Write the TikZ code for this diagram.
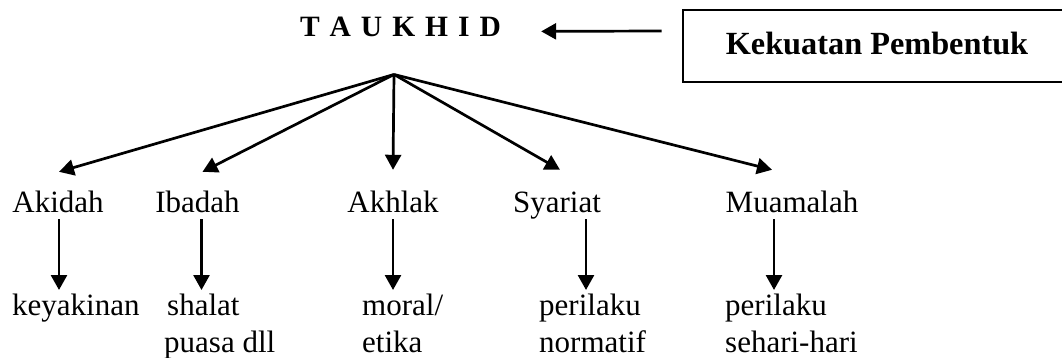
\documentclass[tikz,border=0pt]{standalone}
\usepackage{fontspec}
\setmainfont{Liberation Serif}
\usetikzlibrary{arrows.meta,calc}
\begin{document}
\begin{tikzpicture}[x=1pt,y=-1pt,
  arr/.style={line width=2.7pt,-{Triangle[length=15pt,width=16pt]}},
  lbl/.style={font=\fontsize{31}{37}\selectfont, inner sep=0pt},
  toplbl/.style={lbl, anchor=base, text height=21pt, text depth=7pt},
  botlbl/.style={lbl, anchor=north west, align=left},
  boxline/.style={line width=2.5pt}
]
\useasboundingbox (0,0) rectangle (1062,358);
% title and source box
\node[font=\fontsize{29.5}{34}\selectfont\bfseries, inner sep=0pt, anchor=base] (t) at (400.5,37)
  {T\hspace{10pt}A\hspace{10pt}U\hspace{10pt}K\hspace{10pt}H\hspace{10pt}I\hspace{10pt}D};
\node[font=\fontsize{32.3}{38}\selectfont\bfseries, inner sep=0pt, anchor=base] (kp) at (877,55) {Kekuatan Pembentuk};
\draw[boxline] (1064,10) -| (683,82) -- (1064,82);
\draw[arr] ($(kp.west)+(-64,-13)$) -- ($(t.east)+(40,4)$);
\coordinate (apex) at ($(t.south)+(-6.5,37)$);
% first row
\node[toplbl] (ak) at (58,212) {Akidah};
\node[toplbl] (ib) at (197.5,212) {Ibadah};
\node[toplbl] (ah) at (393,212) {Akhlak};
\node[toplbl] (sy) at (557,212) {Syariat};
\node[toplbl] (mu) at (792,212) {Muamalah};
% second row
\node[botlbl] (ky) at (12,294) {keyakinan};
\node[botlbl] (sp) at (164,294) {\hspace{3pt}shalat\\puasa dll};
\node[botlbl] (me) at (362,294) {moral/\\etika};
\node[botlbl] (pn) at (539,294) {perilaku\\normatif};
\node[botlbl] (ps) at (725,294) {perilaku\\sehari-hari};
% fan
\draw[arr] (apex) -- ($(ak.north)+(1,-19)$);
\draw[arr] (apex) -- ($(ib.north)+(5,-19)$);
\draw[arr] (apex) -- ($(ah.north)+(0,-21)$);
\draw[arr] (apex) -- ($(sy.north)+(3,-21)$);
\draw[arr] (apex) -- ($(mu.north)+(-20,-21)$);
% vertical arrows
\draw[arr] ($(ak.south)+(1,0)$) -- ($(ak.south |- ky.north)+(1,-4)$);
\draw[arr] ($(ib.south)+(4,0)$) -- ($(ib.south |- sp.north)+(4,-4)$);
\draw[arr] (ah.south) -- ($(ah.south |- me.north)+(0,-4)$);
\draw[arr] ($(sy.south)+(29,0)$) -- ($(sy.south |- pn.north)+(29,-4)$);
\draw[arr] ($(mu.south)+(-18,0)$) -- ($(mu.south |- ps.north)+(-18,-4)$);
\end{tikzpicture}
\end{document}
